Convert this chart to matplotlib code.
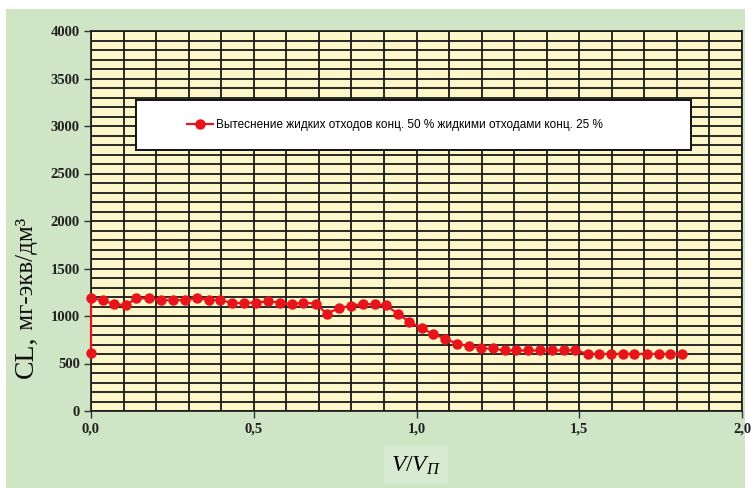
import matplotlib
matplotlib.use("Agg")
import matplotlib.pyplot as plt
from matplotlib.patches import Rectangle
from matplotlib.ticker import MultipleLocator, FuncFormatter

# Data
x_vals = [0.000, 0.000, 0.038, 0.071, 0.109, 0.137, 0.179, 0.215, 0.253, 0.289,
          0.326, 0.361, 0.397, 0.434, 0.470, 0.507, 0.544, 0.580, 0.616, 0.652,
          0.690, 0.724, 0.761, 0.798, 0.835, 0.872, 0.906, 0.943, 0.977, 1.016,
          1.052, 1.088, 1.125, 1.161, 1.197, 1.234, 1.271, 1.307, 1.344, 1.380,
          1.416, 1.452, 1.487, 1.526, 1.562, 1.598, 1.633, 1.668, 1.707, 1.744,
          1.779, 1.817]
cl_vals = [610, 1186, 1165, 1123, 1115, 1186, 1186, 1168, 1165, 1168,
           1189, 1168, 1168, 1136, 1138, 1141, 1154, 1141, 1123, 1141,
           1130, 1025, 1081, 1109, 1126, 1123, 1112, 1025, 940, 871,
           808, 763, 706, 685, 658, 658, 637, 637, 637, 637,
           637, 638, 640, 601, 601, 601, 601, 601, 601, 601,
           601, 601]
series_label = "Вытеснение жидких отходов конц. 50 % жидкими отходами конц. 25 %"
y_label_main = "CL,"
y_label_units = " мг-экв/дм³"
x_label = r"$V/V_{П}$"

plt.rcParams['mathtext.fontset'] = 'custom'
plt.rcParams['mathtext.rm'] = 'Liberation Serif'
plt.rcParams['mathtext.it'] = 'Liberation Serif:italic'

GREEN = '#cfe5c6'
YELLOW = '#fcf6c8'
RED = '#e8141c'

W, H = 755, 488
fig = plt.figure(figsize=(7.55, 4.88), dpi=100, facecolor='white')
bg = Rectangle((6/W, 0), 739/W, 1 - 9/H, transform=fig.transFigure,
               facecolor=GREEN, edgecolor='none', zorder=-10)
fig.add_artist(bg)

ax = fig.add_axes([91/W, 77/H, 651/W, 380/H])
ax.set_zorder(2)
ax.set_facecolor(YELLOW)
ax.set_xlim(0, 2.0)
ax.set_ylim(0, 4000)

ax.xaxis.set_major_locator(MultipleLocator(0.5))
ax.xaxis.set_minor_locator(MultipleLocator(0.1))
ax.yaxis.set_major_locator(MultipleLocator(500))
ax.yaxis.set_minor_locator(MultipleLocator(100))
ax.xaxis.set_major_formatter(FuncFormatter(lambda v, p: f"{v:.1f}".replace('.', ',')))
ax.yaxis.set_major_formatter(FuncFormatter(lambda v, p: f"{int(v)}"))
ax.grid(True, which='both', color='#1a1a1a', linewidth=1.3)
ax.set_axisbelow(True)

ax.tick_params(which='major', direction='out', length=5, width=1, color='#333333',
               labelsize=10.5, pad=3)
ax.tick_params(which='minor', length=0)
for lab in ax.get_xticklabels() + ax.get_yticklabels():
    lab.set_fontfamily('Liberation Serif')
    lab.set_fontweight('bold')
    lab.set_color('#222222')

for s in ax.spines.values():
    s.set_color('#1a1a1a')
    s.set_linewidth(1.2)

line, = ax.plot(x_vals, cl_vals, color=RED, linewidth=1.6, marker='o', markersize=6.5,
                markerfacecolor=RED, markeredgecolor=RED, zorder=5, clip_on=False,
                label=series_label)

# legend box
ax.add_patch(Rectangle((45/651, 261/380), 555/651, 50/380, transform=ax.transAxes,
                       facecolor='white', edgecolor='#111111', linewidth=1.4, zorder=6))
leg = ax.legend(handles=[line], loc='center left', bbox_to_anchor=(90/651, 286/380),
                frameon=False, borderpad=0, handlelength=2.2, handletextpad=0.3,
                prop={'family': 'Liberation Sans', 'size': 8.5})
leg.set_zorder(7)

# y label in two sizes
xb = 33 / W
t1 = fig.text(xb, 1 - 378/H, y_label_main, rotation=90, rotation_mode='anchor',
              ha='left', va='baseline', fontfamily='Liberation Serif', fontsize=20,
              color='#111111')
fig.canvas.draw()
bb = t1.get_window_extent(fig.canvas.get_renderer())
fig.text(xb, bb.y1 / H, y_label_units, rotation=90, rotation_mode='anchor',
         ha='left', va='baseline', fontfamily='Liberation Serif', fontsize=18,
         color='#111111')

fig.text(416/W, 1 - 465/H, x_label, ha='center', va='center', fontsize=17,
         bbox=dict(boxstyle='square,pad=0.3', facecolor='#d8ebd2', edgecolor='none'))

fig.savefig('out.png', dpi=100, facecolor='white')
